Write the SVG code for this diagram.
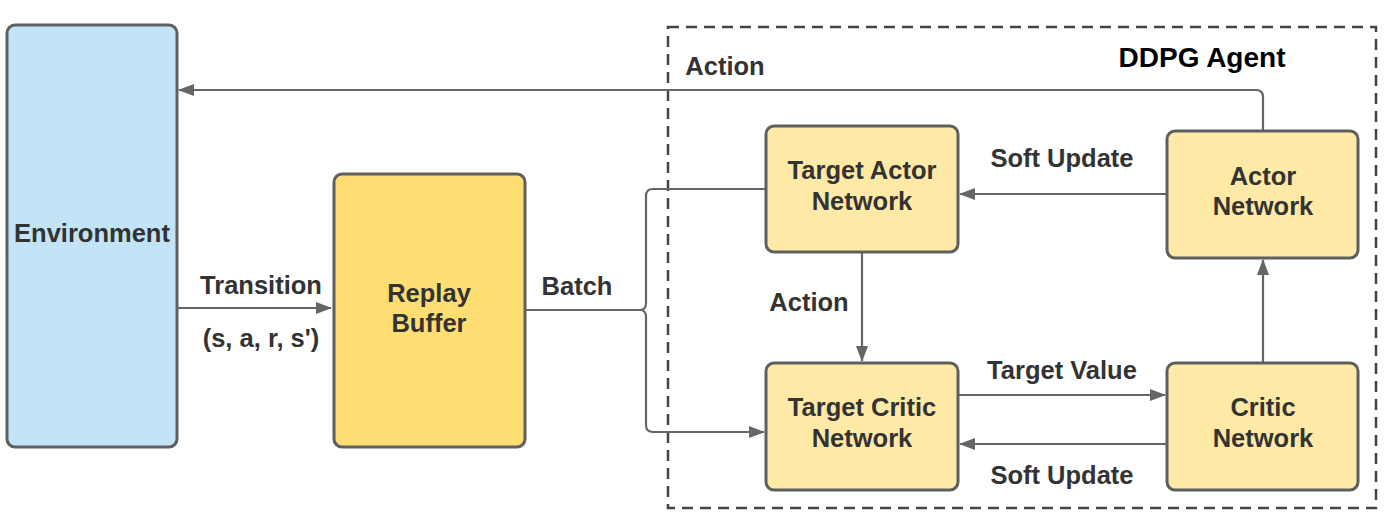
<svg xmlns="http://www.w3.org/2000/svg" width="1400" height="532" viewBox="0 0 1400 532">
<style>
.box{stroke:#5f5f5f;stroke-width:3}
.env{fill:#c2e4f6}
.buf{fill:#fedd72}
.net{fill:#feeaa6}
.t{font-family:"Liberation Sans",Arial,sans-serif;font-weight:bold;font-size:25.5px;fill:#333;text-anchor:middle;dominant-baseline:central}
.c{fill:none;stroke:#666;stroke-width:2.2}
</style>
<defs>
<marker id="ah" viewBox="0 0 16 12" refX="15" refY="6" markerWidth="16" markerHeight="12" markerUnits="userSpaceOnUse" orient="auto">
<path d="M0,0 L16,6 L0,12 Z" fill="#666"/>
</marker>
</defs>
<rect x="668" y="27" width="708" height="481" fill="none" stroke="#444" stroke-width="2.5" stroke-dasharray="11,7"/>
<g id="connectors">
<path class="c" d="M1263,131 V97 Q1263,90 1256,90 H179" marker-end="url(#ah)"/>
<path class="c" d="M177,308 H331" marker-end="url(#ah)"/>
<path class="c" d="M525,310 H640 Q646,310 646,303 V196 Q646,189 653,189 H766"/>
<path class="c" d="M640,310 Q646,310 646,317 V425 Q646,432 653,432 H764" marker-end="url(#ah)"/>
<path class="c" d="M1167,194 H960" marker-end="url(#ah)"/>
<path class="c" d="M862,252 V361" marker-end="url(#ah)"/>
<path class="c" d="M958,395 H1165" marker-end="url(#ah)"/>
<path class="c" d="M1167,444 H960" marker-end="url(#ah)"/>
<path class="c" d="M1263,363 V260" marker-end="url(#ah)"/>
</g>
<g id="labels">
<text class="t" x="725" y="66">Action</text>
<text class="t" x="1202" y="57" style="fill:#000;font-size:28px">DDPG Agent</text>
<text class="t" x="261" y="285">Transition</text>
<text class="t" x="261" y="338">(s, a, r, s')</text>
<text class="t" x="577" y="286">Batch</text>
<text class="t" x="1062" y="158">Soft Update</text>
<text class="t" x="809" y="302">Action</text>
<text class="t" x="1062" y="370">Target Value</text>
<text class="t" x="1062" y="475">Soft Update</text>
</g>
<g id="environment">
<rect class="box env" x="7" y="25" width="170" height="422" rx="8"/>
<text class="t" x="92" y="233">Environment</text>
</g>
<g id="replay-buffer">
<rect class="box buf" x="334" y="174" width="191" height="273" rx="8"/>
<text class="t" x="429" y="293">Replay</text>
<text class="t" x="429" y="323">Buffer</text>
</g>
<g id="target-actor">
<rect class="box net" x="766" y="126" width="192" height="126" rx="8"/>
<text class="t" x="862" y="170">Target Actor</text>
<text class="t" x="862" y="201">Network</text>
</g>
<g id="actor">
<rect class="box net" x="1167" y="131" width="191" height="127" rx="8"/>
<text class="t" x="1263" y="176">Actor</text>
<text class="t" x="1263" y="206">Network</text>
</g>
<g id="target-critic">
<rect class="box net" x="766" y="363" width="192" height="127" rx="8"/>
<text class="t" x="862" y="407">Target Critic</text>
<text class="t" x="862" y="438">Network</text>
</g>
<g id="critic">
<rect class="box net" x="1167" y="363" width="191" height="127" rx="8"/>
<text class="t" x="1263" y="407">Critic</text>
<text class="t" x="1263" y="438">Network</text>
</g>
</svg>
